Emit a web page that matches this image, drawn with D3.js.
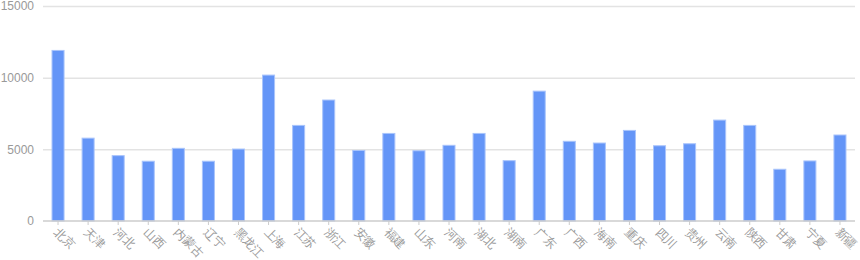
<!DOCTYPE html>
<html>
<head>
<meta charset="utf-8">
<script src="https://cdn.jsdelivr.net/npm/d3@7"></script>
<style>
  body { margin: 0; background: #fff; }
  svg { display: block; font-family: "Liberation Sans", Arial, "Noto Sans CJK SC", sans-serif; }
</style>
</head>
<body>
<svg id="chart" width="860" height="260"></svg>
<script>
// provinces
var provinces = ["北京", "天津", "河北", "山西", "内蒙古", "辽宁", "黑龙江", "上海", "江苏", "浙江",
  "安徽", "福建", "山东", "河南", "湖北", "湖南", "广东", "广西", "海南", "重庆",
  "四川", "贵州", "云南", "陕西", "甘肃", "宁夏", "新疆"];
var values = [11900, 5780, 4560, 4170, 5070, 4170, 5020, 10180, 6670, 8440,
  4920, 6110, 4900, 5280, 6110, 4210, 9060, 5560, 5440, 6320,
  5250, 5390, 7040, 6670, 3610, 4190, 6000];
var yTicks = [0, 5000, 10000, 15000];

var W = 860, H = 260,
    margin = {top: 6, right: 5, bottom: 39, left: 43},
    w = W - margin.left - margin.right,
    h = H - margin.top - margin.bottom;

var svg = d3.select("#chart");
var g = svg.append("g").attr("transform", "translate(" + margin.left + "," + margin.top + ")");

var x = d3.scaleBand().domain(provinces).range([0, w]).paddingInner(0.6).paddingOuter(0.3);
var y = d3.scaleLinear().domain([0, 15000]).range([h, 0]);

// gridlines + y labels
var yAxis = g.append("g").attr("class", "y-axis")
  .call(d3.axisLeft(y).tickValues(yTicks).tickSize(-w).tickPadding(9).tickFormat(d3.format("d")));
yAxis.select(".domain").remove();
yAxis.selectAll(".tick line").attr("stroke", "#e3e3e3").attr("stroke-width", 1.5);
yAxis.selectAll(".tick text").attr("fill", "#999").style("font-size", "12px");
yAxis.selectAll(".tick").filter(function(d) { return d === 0; }).select("line").remove();

// bars
g.selectAll(".bar").data(values).enter().append("rect")
  .attr("class", "bar")
  .attr("x", function(d, i) { return x(provinces[i]); })
  .attr("y", function(d) { return y(d); })
  .attr("width", x.bandwidth())
  .attr("height", function(d) { return h - y(d); })
  .attr("fill", "#6495f7")
  .attr("stroke", "#a9c4fb")
  .attr("stroke-width", 1);

// x axis
var xAxis = g.append("g").attr("class", "x-axis")
  .attr("transform", "translate(0," + h + ")")
  .call(d3.axisBottom(x).tickSize(4).tickSizeOuter(0));
xAxis.select(".domain").attr("stroke", "#ccc").attr("stroke-width", 1.5)
  .attr("d", "M0,0H" + w);
xAxis.selectAll(".tick line").attr("stroke", "#ccc");
xAxis.selectAll(".tick text")
  .attr("fill", "#999")
  .style("font-size", "12px")
  .attr("text-anchor", "start")
  .attr("dy", "0.35em")
  .attr("y", 0)
  .attr("transform", "translate(-2,9) rotate(45)");
</script>
</body>
</html>
